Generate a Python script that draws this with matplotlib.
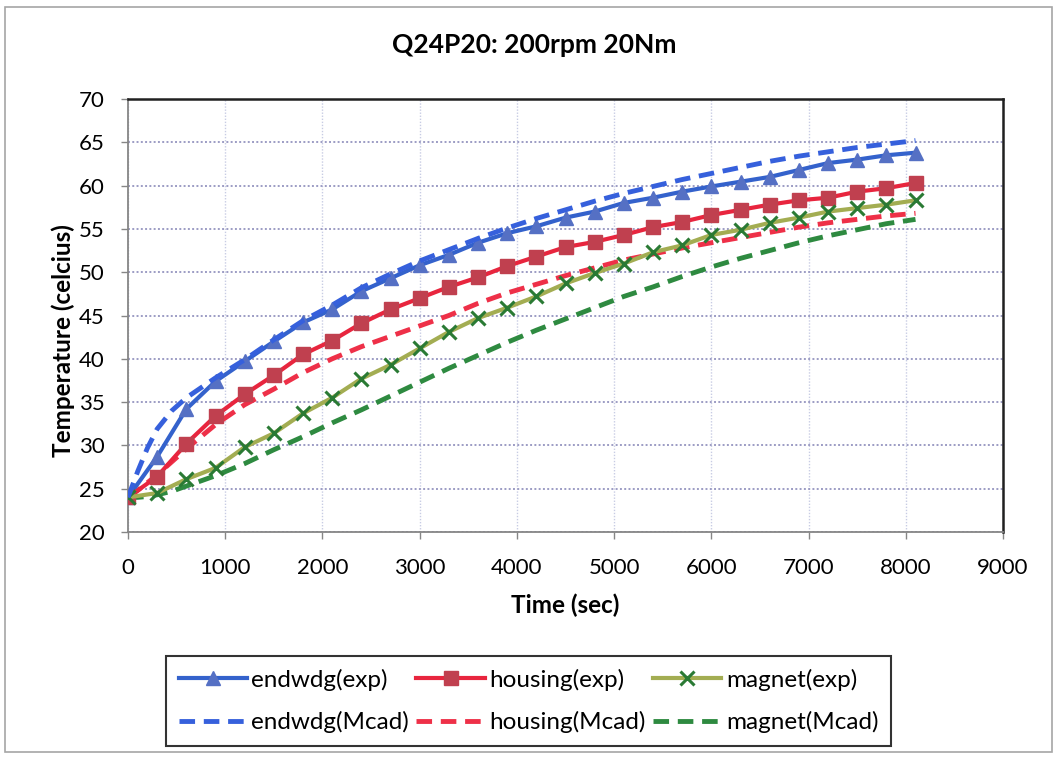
import matplotlib
matplotlib.use("Agg")
import matplotlib.pyplot as plt
from matplotlib.patches import Rectangle

plt.rcParams['font.family'] = ['Lato', 'DejaVu Sans']

# Measured temperatures, sampled every 300 s
t_exp = [0, 300, 600, 900, 1200, 1500, 1800, 2100, 2400, 2700, 3000, 3300, 3600, 3900,
         4200, 4500, 4800, 5100, 5400, 5700, 6000, 6300, 6600, 6900, 7200, 7500, 7800, 8100]
endwdg_exp = [24.0, 28.7, 34.2, 37.4, 39.7, 42.0, 44.2, 45.7, 47.8, 49.3, 50.8, 52.0, 53.4, 54.5,
              55.3, 56.3, 57.0, 58.0, 58.6, 59.3, 59.9, 60.45, 61.0, 61.8, 62.6, 63.0, 63.5, 63.8]
housing_exp = [24.0, 26.4, 30.2, 33.4, 35.9, 38.1, 40.5, 42.1, 44.1, 45.7, 47.0, 48.3, 49.4, 50.7,
               51.8, 52.9, 53.5, 54.3, 55.2, 55.8, 56.6, 57.2, 57.8, 58.3, 58.6, 59.3, 59.7, 60.3]
magnet_exp = [24.0, 24.5, 26.1, 27.4, 29.8, 31.4, 33.7, 35.5, 37.7, 39.3, 41.2, 43.1, 44.7, 45.9,
              47.2, 48.7, 49.9, 51.0, 52.3, 53.1, 54.3, 54.9, 55.7, 56.3, 57.0, 57.4, 57.8, 58.3]

# Motor-CAD predictions
t_mcad = [0, 100, 200, 300, 450, 600, 900, 1200, 1500, 1800, 2100, 2400, 2700, 3000, 3300, 3600,
          3900, 4200, 4500, 4800, 5100, 5400, 5700, 6000, 6300, 6600, 6900, 7200, 7500, 7800, 8100]
endwdg_mcad = [24.0, 27.0, 29.7, 31.9, 34.0, 35.5, 37.8, 39.9, 42.2, 44.4, 46.2, 48.2, 49.8, 51.3,
               52.6, 53.9, 55.1, 56.2, 57.2, 58.2, 59.1, 59.9, 60.7, 61.4, 62.1, 62.8, 63.4, 63.9,
               64.4, 64.8, 65.2]
housing_mcad = [24.0, 24.8, 25.7, 26.6, 28.1, 29.6, 32.4, 34.7, 36.5, 38.4, 40.0, 41.4, 42.6, 43.8,
                45.0, 46.4, 47.6, 48.6, 49.6, 50.5, 51.4, 52.1, 52.8, 53.4, 54.0, 54.6, 55.2, 55.7,
                56.1, 56.5, 56.8]
magnet_mcad = [24.0, 24.0, 24.1, 24.3, 24.7, 25.3, 26.5, 27.9, 29.5, 31.0, 32.6, 34.1, 35.7, 37.3,
               38.9, 40.4, 41.9, 43.3, 44.6, 45.9, 47.2, 48.3, 49.5, 50.6, 51.6, 52.5, 53.4, 54.2,
               54.9, 55.6, 56.1]

x_ticks = [0, 1000, 2000, 3000, 4000, 5000, 6000, 7000, 8000, 9000]
y_ticks = [20, 25, 30, 35, 40, 45, 50, 55, 60, 65, 70]

fig = plt.figure(figsize=(10.57, 7.58), dpi=100)
fig.patch.set_facecolor('white')

# chart-area border
fig.add_artist(Rectangle((0.005, 0.008), 0.99, 0.983, transform=fig.transFigure,
                         fill=False, edgecolor='#a6a6a6', linewidth=1.2))

ax = fig.add_axes([128 / 1057, 1 - 532 / 758, 875 / 1057, 433 / 758])

dash = (3.2, 1.8)
l1, = ax.plot(t_exp, endwdg_exp, color='#3462cc', lw=3.0, marker='^', ms=10,
              mfc='#5570c4', mec='#5570c4', label='endwdg(exp)', zorder=4)
l2, = ax.plot(t_mcad, endwdg_mcad, color='#3660dc', lw=3.5, dashes=dash,
              label='endwdg(Mcad)', zorder=5)
l3, = ax.plot(t_exp, housing_exp, color='#e8253e', lw=3.0, marker='s', ms=9.5,
              mfc='#c0404f', mec='#c0404f', label='housing(exp)', zorder=4)
l4, = ax.plot(t_mcad, housing_mcad, color='#ee3048', lw=3.5, dashes=dash,
              label='housing(Mcad)', zorder=3)
l5, = ax.plot(t_exp, magnet_exp, color='#a3ad52', lw=3.0, marker='x', ms=10, mew=2.2,
              mfc='#2a7a34', mec='#2a7a34', label='magnet(exp)', zorder=4)
l6, = ax.plot(t_mcad, magnet_mcad, color='#2e8a40', lw=3.5, dashes=dash,
              label='magnet(Mcad)', zorder=3)

ax.set_xlim(0, 9000)
ax.set_ylim(20, 70)
ax.set_xticks(x_ticks)
ax.set_yticks(y_ticks)
ax.tick_params(axis='both', labelsize=16, length=5, width=1, color='#868686',
               direction='out', labelcolor='black')
ax.tick_params(axis='x', pad=14)
ax.tick_params(axis='y', pad=12)

ax.grid(axis='y', color='#9c9cc4', linestyle=(0, (1, 1.2)), linewidth=1.4)
ax.grid(axis='x', color='#c8cce4', linestyle=(0, (1, 1.2)), linewidth=1.0)
ax.set_axisbelow(True)

for side in ('top', 'right'):
    ax.spines[side].set_color('#202020')
    ax.spines[side].set_linewidth(1.8)
for side in ('left', 'bottom'):
    ax.spines[side].set_color('#868686')
    ax.spines[side].set_linewidth(1.3)

# title is centred on the whole chart area
fig.text(534 / 1057, 1 - 45 / 758, 'Q24P20: 200rpm 20Nm', fontsize=19, fontweight='bold',
         ha='center', va='center')
ax.set_xlabel('Time (sec)', fontsize=17.5, fontweight='bold', labelpad=11)
ax.set_ylabel('Temperature (celcius)', fontsize=17.5, fontweight='bold')
ax.yaxis.set_label_coords(-0.061, 0.443)

leg = fig.legend(handles=[l1, l2, l3, l4, l5, l6], loc='center',
                 bbox_to_anchor=(0.5, 1 - 701 / 758), ncol=3, fontsize=17.5,
                 frameon=True, fancybox=False, edgecolor='black', handlelength=2.8,
                 handletextpad=0.2, columnspacing=0.3, borderpad=0.5, labelspacing=0.85)
leg.get_frame().set_linewidth(1.5)

fig.savefig('out.png', dpi=100)
